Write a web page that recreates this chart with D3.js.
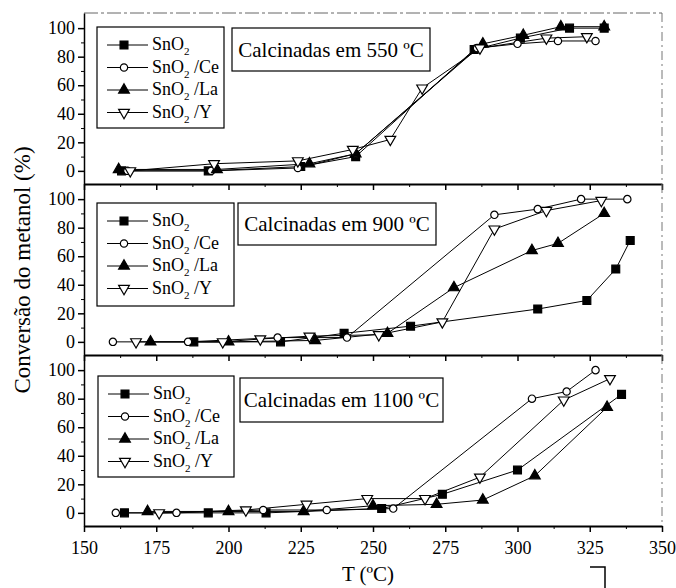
<!DOCTYPE html>
<html>
<head>
<meta charset="utf-8">
<script src="https://cdn.jsdelivr.net/npm/d3@7"></script>
<style>
  body { margin: 0; background: #fff; }
  text { font-family: "Liberation Serif", "Times New Roman", serif; fill: #000; }
</style>
</head>
<body>
<div class="chart"></div>
<script>
// series names and panel titles
var seriesNames = ["SnO2", "SnO2 /Ce", "SnO2 /La", "SnO2 /Y"];
var panelTitles = ["Calcinadas em 550 ºC", "Calcinadas em 900 ºC", "Calcinadas em 1100 ºC"];
var xTickValues = [150, 175, 200, 225, 250, 275, 300, 325, 350];
var yTickValues = [0, 20, 40, 60, 80, 100];

// 550 C  [T, conversion]
var sno2_550 = [[163, 0], [193, 0], [225, 3], [244, 10], [285, 85], [301, 93], [318, 100], [330, 100]];
var ce_550   = [[165, 0], [194, 0], [224, 2], [244, 12], [286, 86], [300, 89], [314, 91], [327, 91]];
var la_550   = [[162, 1], [196, 1], [228, 5], [244, 12], [288, 89], [302, 95], [315, 101], [330, 101]];
var y_550    = [[166, 0], [195, 5], [224, 7], [243, 15], [256, 22], [267, 58], [287, 86], [310, 93], [324, 94]];

// 900 C
var sno2_900 = [[188, 0], [218, 0], [240, 6], [263, 11], [307, 23], [324, 29], [334, 51], [339, 71]];
var ce_900   = [[160, 0], [186, 0], [217, 3], [241, 3], [292, 89], [307, 93], [322, 100], [338, 100]];
var la_900   = [[173, 0], [200, 0], [230, 1], [255, 6], [278, 38], [305, 64], [314, 69], [330, 90]];
var y_900    = [[168, 0], [198, 0], [211, 2], [228, 4], [252, 5], [274, 14], [292, 79], [310, 92], [329, 99]];

// 1100 C
var sno2_1100 = [[164, 0], [193, 0], [213, 0], [253, 3], [274, 13], [300, 30], [336, 83]];
var ce_1100   = [[161, 0], [182, 0], [212, 2], [234, 2], [257, 3], [305, 80], [317, 85], [327, 100]];
var la_1100   = [[172, 1], [200, 1], [226, 1], [250, 5], [272, 6], [288, 9], [306, 26], [331, 74]];
var y_1100    = [[176, 0], [206, 2], [227, 6], [248, 10], [268, 10], [287, 25], [316, 79], [332, 94]];

var panelData = [
  [sno2_550, ce_550, la_550, y_550],
  [sno2_900, ce_900, la_900, y_900],
  [sno2_1100, ce_1100, la_1100, y_1100]
];

var symbols = [d3.symbolSquare, d3.symbolCircle, d3.symbolTriangle, d3.symbolTriangle];
var sizes = [62, 42, 50, 50];
var fills = ["#000", "#fff", "#000", "#fff"];
var rotate = [0, 0, 0, 180];

var W = 676, H = 588;
var left = 84, right = 662;
var panelTops = [13, 184, 355];
var panelH = 171;

var svg = d3.select(".chart").append("svg")
  .attr("width", W)
  .attr("height", H);

var x = d3.scaleLinear().domain([150, 350]).range([left, right]);

function symbolAt(g, i, cx, cy) {
  g.append("path")
    .attr("d", d3.symbol().type(symbols[i]).size(sizes[i])())
    .attr("transform", "translate(" + cx + "," + cy + ")" + (rotate[i] ? " rotate(180)" : ""))
    .attr("fill", fills[i])
    .attr("stroke", "#000")
    .attr("stroke-width", 1.2);
}

function subLabel(sel, name) {
  // SnO2 with subscript 2
  var rest = name.slice(4);
  sel.append("tspan").text("SnO");
  sel.append("tspan").text("2").attr("font-size", 11).attr("dy", 5);
  sel.append("tspan").text(rest).attr("dy", -5);
}

var titleBoxes = [
  {x: 232, y: 28, w: 198, h: 43},
  {x: 238, y: 203, w: 198, h: 42},
  {x: 240, y: 378, w: 203, h: 44}
];
var legendBoxes = [
  {x: 97, y: 27, w: 127, h: 101},
  {x: 97, y: 203, w: 137, h: 103},
  {x: 98, y: 376, w: 136, h: 101}
];

panelData.forEach(function(series, p) {
  var top = panelTops[p];
  var y = d3.scaleLinear().domain([-9.2, 110.6]).range([top + panelH, top]);
  var g = svg.append("g");

  // frame: right side and top are faint in the scan
  g.append("line")
    .attr("x1", right).attr("x2", right)
    .attr("y1", top).attr("y2", top + panelH)
    .attr("stroke", "#777").attr("stroke-width", 1)
    .attr("stroke-dasharray", "9,4,2,4");
  if (p == 0) {
    g.append("line")
      .attr("x1", left).attr("x2", right)
      .attr("y1", top).attr("y2", top)
      .attr("stroke", "#666").attr("stroke-width", 1)
      .attr("stroke-dasharray", "14,3,3,3");
  }

  // x axis (bottom of each panel, labels only on last one)
  var xMaj = g.append("g")
    .attr("transform", "translate(0," + (top + panelH) + ")")
    .call(d3.axisBottom(x).tickValues(xTickValues).tickSize(6).tickSizeOuter(0)
      .tickFormat(p == 2 ? d3.format("d") : ""));
  xMaj.select(".domain").attr("stroke-width", 2);
  xMaj.selectAll(".tick line").attr("stroke-width", 1.5);
  xMaj.selectAll("text").attr("font-size", 18).attr("font-family", "Liberation Serif").attr("dy", "1.05em");
  g.append("g")
    .attr("transform", "translate(0," + (top + panelH) + ")")
    .call(d3.axisBottom(x).tickValues(d3.range(162.5, 350, 25)).tickSize(3).tickFormat(""))
    .select(".domain").remove();

  // y axis
  var yMaj = g.append("g")
    .attr("transform", "translate(" + left + ",0)")
    .call(d3.axisLeft(y).tickValues(yTickValues).tickSize(6).tickSizeOuter(0));
  yMaj.select(".domain").attr("stroke-width", 1.5);
  yMaj.selectAll(".tick line").attr("stroke-width", 1.5);
  yMaj.selectAll("text").attr("font-size", 18).attr("font-family", "Liberation Serif").attr("x", -9);
  g.append("g")
    .attr("transform", "translate(" + left + ",0)")
    .call(d3.axisLeft(y).tickValues(d3.range(10, 100, 20)).tickSize(3).tickFormat(""))
    .select(".domain").remove();

  // lines then markers
  var line = d3.line().x(function(d) { return x(d[0]); }).y(function(d) { return y(d[1]); });
  series.forEach(function(s, i) {
    g.append("path")
      .datum(s)
      .attr("d", line)
      .attr("fill", "none")
      .attr("stroke", "#000")
      .attr("stroke-width", 1);
  });
  series.forEach(function(s, i) {
    s.forEach(function(d) { symbolAt(g, i, x(d[0]), y(d[1])); });
  });

  // title box
  var tb = titleBoxes[p];
  g.append("rect")
    .attr("x", tb.x).attr("y", tb.y).attr("width", tb.w).attr("height", tb.h)
    .attr("fill", "#fff").attr("stroke", "#000").attr("stroke-width", 1.2);
  g.append("text")
    .attr("x", tb.x + tb.w / 2).attr("y", tb.y + tb.h / 2 + 7)
    .attr("text-anchor", "middle")
    .attr("font-size", 21)
    .text(panelTitles[p]);

  // legend
  var lb = legendBoxes[p];
  g.append("rect")
    .attr("x", lb.x).attr("y", lb.y).attr("width", lb.w).attr("height", lb.h)
    .attr("fill", "#fff").attr("stroke", "#000").attr("stroke-width", 1.2);
  seriesNames.forEach(function(name, i) {
    var ry = lb.y + 18 + i * 22.5;
    g.append("line")
      .attr("x1", lb.x + 10).attr("x2", lb.x + 51)
      .attr("y1", ry).attr("y2", ry)
      .attr("stroke", "#000").attr("stroke-width", 1);
    symbolAt(g, i, lb.x + 27, ry);
    var t = g.append("text")
      .attr("x", lb.x + 55).attr("y", ry + 5)
      .attr("font-size", 18);
    subLabel(t, name);
  });
});

// axis titles
svg.append("text")
  .attr("transform", "translate(30," + 270 + ") rotate(-90)")
  .attr("text-anchor", "middle")
  .attr("font-size", 23)
  .text("Conversão do metanol (%)");

svg.append("text")
  .attr("x", 368).attr("y", 581)
  .attr("text-anchor", "middle")
  .attr("font-size", 21)
  .text("T (ºC)");

// small corner mark from the scan
svg.append("path")
  .attr("d", "M590,567 H605 V588")
  .attr("fill", "none").attr("stroke", "#000").attr("stroke-width", 1.5);
</script>
</body>
</html>
